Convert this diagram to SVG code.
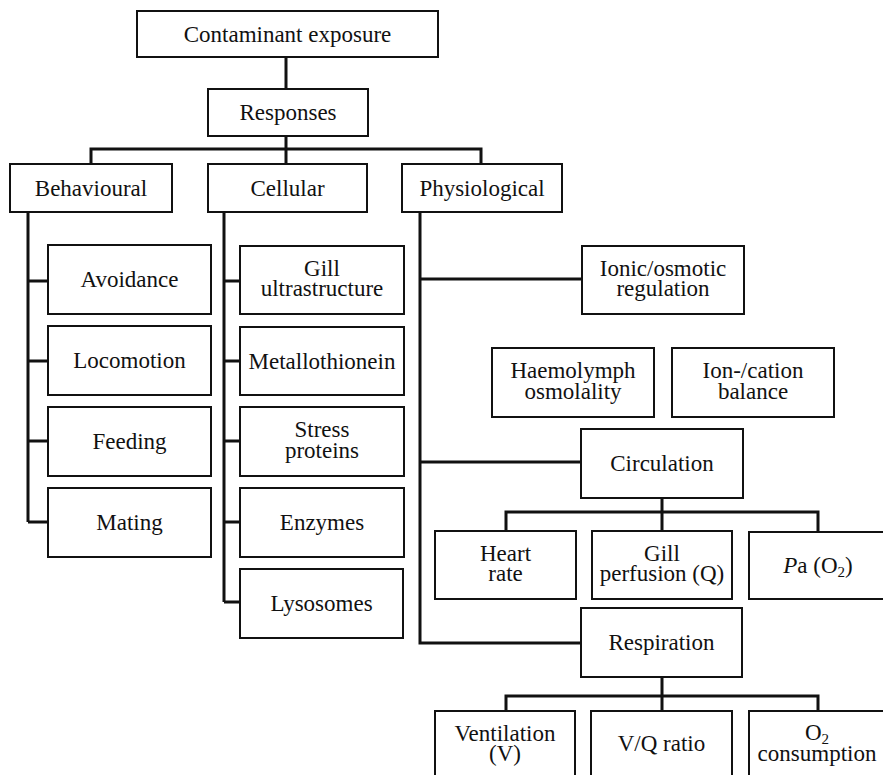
<svg xmlns="http://www.w3.org/2000/svg" width="883" height="775" viewBox="0 0 883 775">
<style>
  .box { fill: #fff; stroke: #111; stroke-width: 2; }
  .lbl { font-family: "Liberation Serif", "Times New Roman", serif; font-size: 23px; fill: #111; text-anchor: middle; }
  .sub { font-size: 15px; }
  #connectors path { fill: none; stroke: #111; stroke-width: 3; }
</style>
<rect width="883" height="775" fill="#fff"/>
<g id="connectors">
  <path d="M286,57 V89"/>
  <path d="M286,136 V164"/>
  <path d="M91,164 V149 H481 V164"/>
  <path d="M28,212 V522 M28,281 H48 M28,361 H48 M28,441 H48 M28,522 H48"/>
  <path d="M224,212 V602 M224,281 H240 M224,361 H240 M224,441 H240 M224,522 H240 M224,602 H240"/>
  <path d="M420,212 V643 H581 M420,279 H582 M420,462 H581"/>
  <path d="M662,498 V531 M506,531 V512 H818 V532"/>
  <path d="M662,677 V711 M506,711 V696 H818 V711"/>
</g>
<g id="contaminant"><rect class="box" x="137" y="11" width="301" height="46"/><text class="lbl" x="287.5" y="41.5">Contaminant exposure</text></g>
<g id="responses"><rect class="box" x="208" y="89" width="160" height="47"/><text class="lbl" x="288" y="120">Responses</text></g>
<g id="behavioural"><rect class="box" x="10" y="164" width="162" height="48"/><text class="lbl" x="91" y="196">Behavioural</text></g>
<g id="cellular"><rect class="box" x="208" y="164" width="159" height="48"/><text class="lbl" x="287.5" y="196">Cellular</text></g>
<g id="physiological"><rect class="box" x="402" y="164" width="160" height="48"/><text class="lbl" x="482" y="196">Physiological</text></g>

<g id="avoidance"><rect class="box" x="48" y="245" width="163" height="69"/><text class="lbl" x="129.5" y="287">Avoidance</text></g>
<g id="locomotion"><rect class="box" x="48" y="326" width="163" height="69"/><text class="lbl" x="129.5" y="368">Locomotion</text></g>
<g id="feeding"><rect class="box" x="48" y="407" width="163" height="69"/><text class="lbl" x="129.5" y="449">Feeding</text></g>
<g id="mating"><rect class="box" x="48" y="488" width="163" height="69"/><text class="lbl" x="129.5" y="530">Mating</text></g>

<g id="gill-ultrastructure"><rect class="box" x="240" y="246" width="164" height="68"/><text class="lbl" x="322" y="275.5">Gill</text><text class="lbl" x="322" y="296">ultrastructure</text></g>
<g id="metallothionein"><rect class="box" x="240" y="327" width="164" height="68"/><text class="lbl" x="322" y="368.5">Metallothionein</text></g>
<g id="stress-proteins"><rect class="box" x="240" y="407" width="164" height="69"/><text class="lbl" x="322" y="437">Stress</text><text class="lbl" x="322" y="457.5">proteins</text></g>
<g id="enzymes"><rect class="box" x="240" y="488" width="164" height="69"/><text class="lbl" x="322" y="530">Enzymes</text></g>
<g id="lysosomes"><rect class="box" x="240" y="569" width="163" height="69"/><text class="lbl" x="321.5" y="611">Lysosomes</text></g>

<g id="ionic-osmotic"><rect class="box" x="582" y="246" width="162" height="68"/><text class="lbl" x="663" y="275.5">Ionic/osmotic</text><text class="lbl" x="663" y="295.5">regulation</text></g>
<g id="haemolymph"><rect class="box" x="492" y="348" width="162" height="69"/><text class="lbl" x="573" y="378">Haemolymph</text><text class="lbl" x="573" y="398.5">osmolality</text></g>
<g id="ion-cation"><rect class="box" x="672" y="348" width="162" height="69"/><text class="lbl" x="753" y="378">Ion-/cation</text><text class="lbl" x="753" y="398.5">balance</text></g>
<g id="circulation"><rect class="box" x="581" y="429" width="162" height="69"/><text class="lbl" x="662" y="471">Circulation</text></g>

<g id="heart-rate"><rect class="box" x="435" y="531" width="141" height="68"/><text class="lbl" x="505.5" y="560.5">Heart</text><text class="lbl" x="505.5" y="581">rate</text></g>
<g id="gill-perfusion"><rect class="box" x="592" y="531" width="140" height="68"/><text class="lbl" x="662" y="560.5">Gill</text><text class="lbl" x="662" y="581">perfusion (Q)</text></g>
<g id="pa-o2"><rect class="box" x="749" y="532" width="140" height="67"/><text class="lbl" x="818" y="573"><tspan font-style="italic">P</tspan>a (O<tspan class="sub" dy="4">2</tspan><tspan dy="-4">)</tspan></text></g>

<g id="respiration"><rect class="box" x="581" y="608" width="161" height="69"/><text class="lbl" x="661.5" y="650">Respiration</text></g>

<g id="ventilation"><rect class="box" x="435" y="711" width="140" height="70"/><text class="lbl" x="505" y="740.5">Ventilation</text><text class="lbl" x="505" y="761">(V)</text></g>
<g id="vq-ratio"><rect class="box" x="591" y="711" width="141" height="70"/><text class="lbl" x="661.5" y="751">V/Q ratio</text></g>
<g id="o2-consumption"><rect class="box" x="749" y="711" width="140" height="70"/><text class="lbl" x="817" y="740">O<tspan class="sub" dy="4">2</tspan></text><text class="lbl" x="817" y="761">consumption</text></g>
</svg>
